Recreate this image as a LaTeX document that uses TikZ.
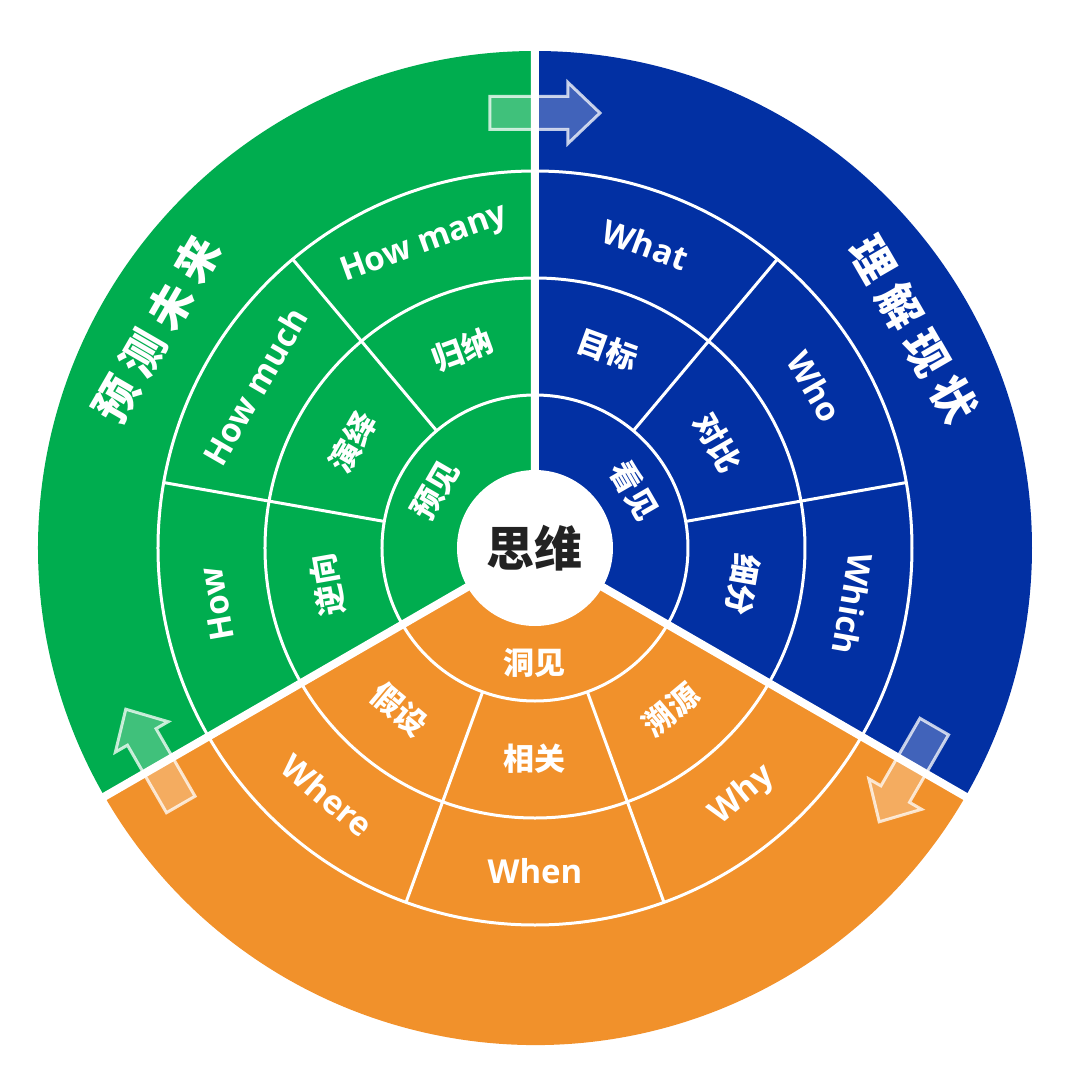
\documentclass[tikz,border=0pt]{standalone}
\usepackage{fontspec}
\setmainfont{Open Sans}
\newfontfamily\cjk{Noto Sans CJK SC}
\usepackage{tikz}
\definecolor{gr}{RGB}{0,173,79}
\definecolor{bl}{RGB}{2,48,163}
\definecolor{og}{RGB}{241,145,43}
\tikzstyle{ring} = [draw=white, line width=3pt]
\tikzstyle{gap} = [draw=white, line width=8pt]
\tikzstyle{l1} = [text=white, inner sep=0pt, font=\cjk\bfseries\fontsize{31}{31}\selectfont]
\tikzstyle{l2} = [text=white, inner sep=0pt, font=\bfseries\fontsize{33}{33}\selectfont]
\tikzstyle{l3} = [text=white, inner sep=0pt, font=\cjk\bfseries\fontsize{44}{44}\selectfont]
\tikzstyle{arr} = [draw=white, draw opacity=0.75, line width=3pt, fill=white, fill opacity=0.25]

\begin{document}
\begin{tikzpicture}[x=1pt, y=1pt]
\useasboundingbox (-535,-532) rectangle (545,548);
% three sectors
\fill[bl] (0,0) -- (90:497) arc (90:-30:497) -- cycle;
\fill[gr] (0,0) -- (90:497) arc (90:210:497) -- cycle;
\fill[og] (0,0) -- (210:497) arc (210:330:497) -- cycle;
% rings and cells
\draw[ring] (0,0) circle (153) (0,0) circle (270) (0,0) circle (377);
\foreach \a in {10,50,130,170,250,290}
  \draw[ring] (\a:153) -- (\a:377);
% turning arrows
\foreach \a in {90,210,330}
  \draw[arr, shift={(\a:435)}, rotate=\a-90]
    (-45,-16.5) -- (33,-16.5) -- (33,-30.5) -- (65,0) -- (33,30.5) -- (33,16.5) -- (-45,16.5) -- cycle;
% gaps between sectors
\draw[gap] (0,0) -- (90:520) (0,0) -- (210:520) (0,0) -- (330:520);
% centre
\node[circle, fill=white, minimum size=156pt, inner sep=0pt,
  font=\cjk\bfseries\fontsize{48}{48}\selectfont, text={rgb,255:red,34;green,34;blue,34}] (C) at (0,0) {思维};

% blue: 理解现状
\node[l1, rotate=-60] (K1) at (30:115) {看见};
\node[l1, rotate=-20] (K2) at (70:211) {目标};
\node[l1, rotate=-60] (K3) at (30:211) {对比};
\node[l1, rotate=-100] (K4) at (-10:211) {细分};
\node[l2, rotate=-20] (K5) at (70:323) {What};
\node[l2, rotate=-60] (K6) at (30:323) {Who};
\node[l2, rotate=-100] (K7) at (-10:323) {Which};
\node[l3, rotate=-60] (K) at (30:437) {理\hspace{10pt}解\hspace{10pt}现\hspace{10pt}状};

% green: 预测未来
\node[l1, rotate=60] (Y1) at (150:115) {预见};
\node[l1, rotate=20] (Y2) at (110:211) {归纳};
\node[l1, rotate=60] (Y3) at (150:211) {演绎};
\node[l1, rotate=100] (Y4) at (190:211) {逆向};
\node[l2, rotate=20] (Y5) at (110:323) {How many};
\node[l2, rotate=60] (Y6) at (150:323) {How much};
\node[l2, rotate=100] (Y7) at (190:323) {How};
\node[l3, rotate=60] (Y) at (150:437) {预\hspace{10pt}测\hspace{10pt}未\hspace{10pt}来};

% orange
\node[l1] (D1) at (270:115) {洞见};
\node[l1, rotate=-40] (D2) at (230:211) {假设};
\node[l1] (D3) at (270:211) {相关};
\node[l1, rotate=40] (D4) at (310:211) {溯源};
\node[l2, rotate=-40] (D5) at (230:323) {Where};
\node[l2] (D6) at (270:323) {When};
\node[l2, rotate=40] (D7) at (310:323) {Why};
\end{tikzpicture}
\end{document}
